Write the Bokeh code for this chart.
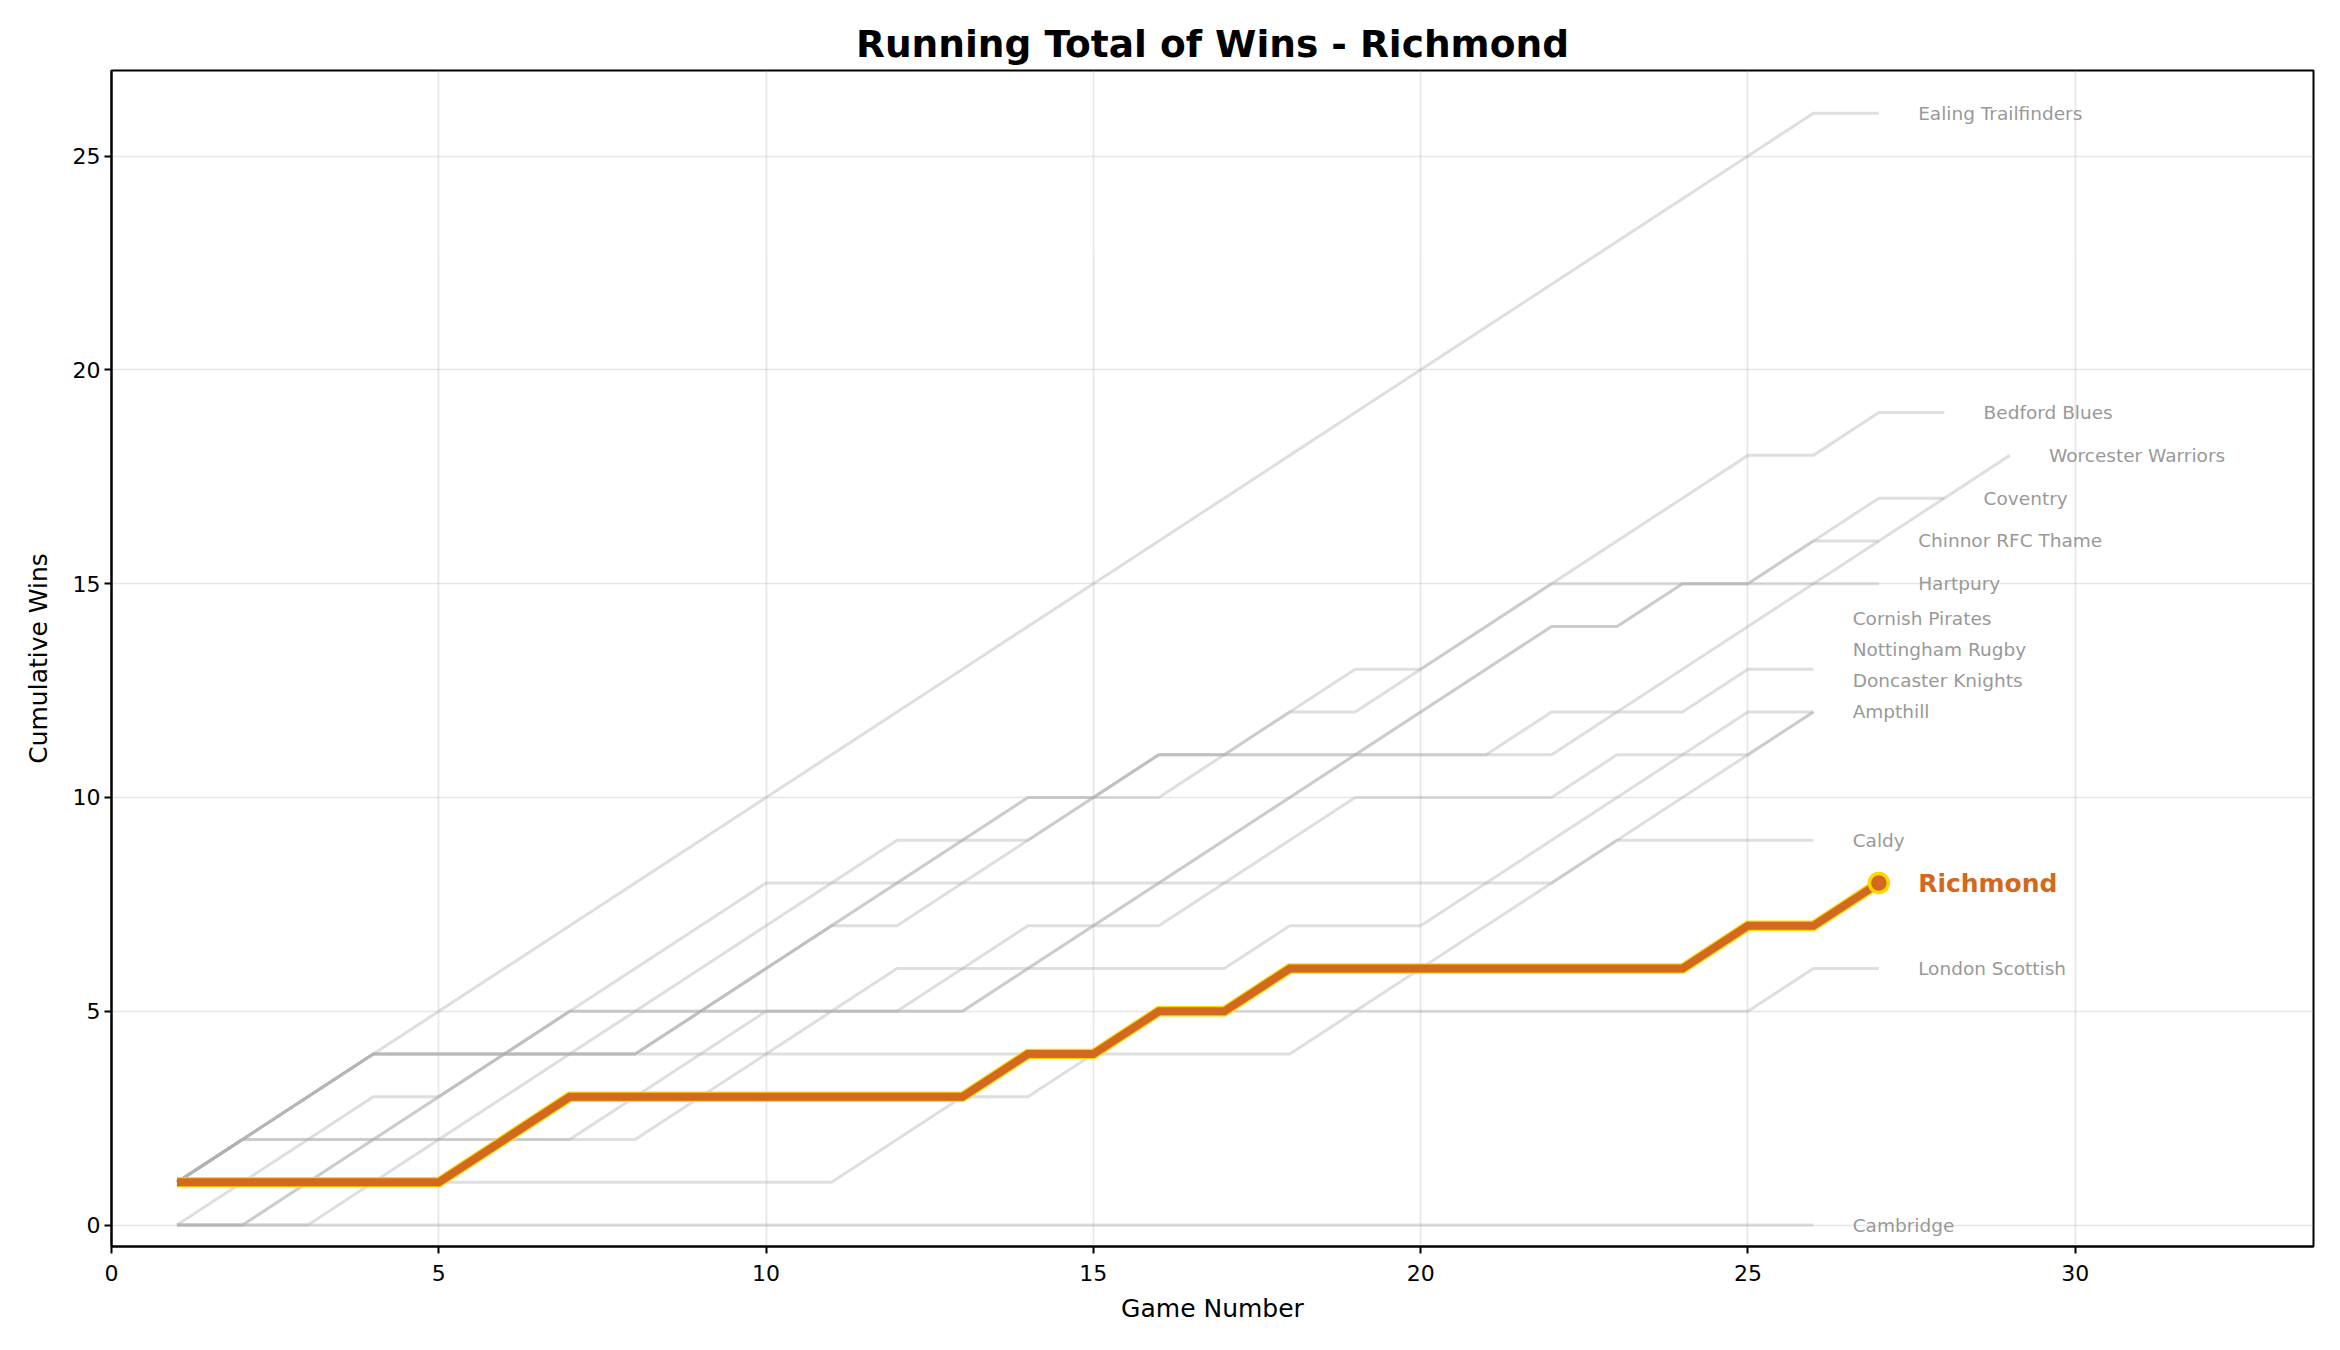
from bokeh.plotting import figure
from bokeh.models import Range1d, ColumnDataSource, FixedTicker
from bokeh.core.properties import value
from bokeh.embed import file_html
from bokeh.resources import INLINE

# cumulative wins after each game (game 1 .. N)
ealing = [1, 2, 3, 4, 5, 6, 7, 8, 9, 10, 11, 12, 13, 14, 15, 16, 17, 18, 19, 20, 21, 22, 23, 24, 25, 26, 26]
bedford = [1, 2, 3, 4, 4, 4, 4, 4, 5, 6, 7, 8, 9, 10, 10, 10, 11, 12, 12, 13, 14, 15, 16, 17, 18, 18, 19, 19]
worcester = [1, 2, 3, 4, 4, 4, 4, 4, 5, 6, 7, 7, 8, 9, 10, 11, 11, 11, 11, 11, 11, 11, 12, 13, 14, 15, 16, 17, 18]
coventry = [1, 2, 3, 4, 4, 4, 4, 4, 5, 6, 7, 8, 9, 10, 10, 11, 11, 12, 13, 13, 14, 15, 15, 15, 15, 16, 17, 17]
chinnor = [0, 1, 2, 3, 3, 4, 5, 5, 5, 5, 5, 5, 5, 6, 7, 8, 9, 10, 11, 12, 13, 14, 14, 15, 15, 16, 16]
hartpury = [0, 0, 1, 2, 3, 4, 5, 5, 5, 5, 5, 5, 5, 6, 7, 8, 9, 10, 11, 12, 13, 14, 14, 15, 15, 15, 15]
cornish = [0, 0, 0, 1, 2, 3, 4, 5, 6, 7, 8, 9, 9, 9, 10, 11, 11, 11, 11, 11, 11, 12, 12, 12, 13, 13]
nottingham = [1, 2, 2, 2, 2, 2, 2, 2, 3, 4, 5, 6, 6, 6, 6, 6, 6, 7, 7, 7, 8, 9, 10, 11, 12, 12]
doncaster = [1, 2, 2, 2, 2, 2, 2, 3, 4, 5, 5, 5, 6, 7, 7, 7, 8, 9, 10, 10, 10, 10, 11, 11, 11, 12]
ampthill = [1, 1, 1, 1, 1, 1, 1, 1, 1, 1, 1, 2, 3, 3, 4, 5, 5, 5, 5, 6, 7, 8, 9, 10, 11, 12]
caldy = [0, 0, 1, 2, 3, 4, 5, 6, 7, 8, 8, 8, 8, 8, 8, 8, 8, 8, 8, 8, 8, 8, 9, 9, 9, 9]
london_scottish = [1, 2, 3, 4, 4, 4, 4, 4, 4, 4, 4, 4, 4, 4, 4, 4, 4, 4, 5, 5, 5, 5, 5, 5, 5, 6, 6]
cambridge = [0, 0, 0, 0, 0, 0, 0, 0, 0, 0, 0, 0, 0, 0, 0, 0, 0, 0, 0, 0, 0, 0, 0, 0, 0, 0]
richmond = [1, 1, 1, 1, 1, 2, 3, 3, 3, 3, 3, 3, 3, 4, 4, 5, 5, 6, 6, 6, 6, 6, 6, 6, 7, 7, 8]

team_names = ["Ealing Trailfinders", "Bedford Blues", "Worcester Warriors", "Coventry",
              "Chinnor RFC Thame", "Hartpury", "Cornish Pirates", "Nottingham Rugby",
              "Doncaster Knights", "Ampthill", "Caldy", "London Scottish", "Cambridge"]
team_wins = [ealing, bedford, worcester, coventry, chinnor, hartpury, cornish, nottingham,
             doncaster, ampthill, caldy, london_scottish, cambridge]
focus_name = "Richmond"

x_ticks = [0, 5, 10, 15, 20, 25, 30]
y_ticks = [0, 5, 10, 15, 20, 25]

FONT = "DejaVu Sans"

p = figure(width=2324, height=1334,
           x_range=Range1d(0, 33.64), y_range=Range1d(-0.5, 27),
           output_backend="svg", toolbar_location=None,
           min_border_left=111, min_border_right=11,
           min_border_top=70, min_border_bottom=88,
           background_fill_color="white", border_fill_color="white")

p.title.text = "Running Total of Wins - Richmond"
p.title.text_font = FONT
p.title.text_font_size = "37.5px"
p.title.text_font_style = "bold"
p.title.align = "center"
p.title.text_color = "black"
p.title.standoff = 10

p.outline_line_color = "black"
p.outline_line_width = 2
p.outline_line_alpha = 1

for ax in (p.xaxis[0], p.yaxis[0]):
    ax.axis_line_color = "black"
    ax.axis_line_width = 2
    ax.major_tick_line_color = "black"
    ax.major_tick_line_width = 2
    ax.major_tick_in = 0
    ax.major_tick_out = 7
    ax.minor_tick_line_color = None
    ax.major_label_text_font = FONT
    ax.major_label_text_font_size = "22px"
    ax.major_label_text_color = "black"
    ax.axis_label_text_font = FONT
    ax.axis_label_text_font_size = "25px"
    ax.axis_label_text_font_style = "normal"
    ax.axis_label_text_color = "black"

p.xaxis.major_label_standoff = 11
p.xaxis.axis_label_standoff = 10
p.yaxis.major_label_standoff = 4
p.yaxis.axis_label_standoff = 17

p.xaxis.axis_label = "Game Number"
p.yaxis.axis_label = "Cumulative Wins"
p.xaxis.ticker = FixedTicker(ticks=x_ticks)
p.yaxis.ticker = FixedTicker(ticks=y_ticks)
p.xgrid.ticker = FixedTicker(ticks=x_ticks)
p.ygrid.ticker = FixedTicker(ticks=y_ticks)
for g in (p.xgrid[0], p.ygrid[0]):
    g.grid_line_color = "#b0b0b0"
    g.grid_line_alpha = 0.3
    g.grid_line_width = 1.7

# other teams in light grey
xs = [list(range(1, len(w) + 1)) for w in team_wins]
ys = [list(w) for w in team_wins]
p.multi_line(xs=xs, ys=ys, line_color="#b0b0b0", line_alpha=0.4, line_width=3)

# focus team
rx = list(range(1, len(richmond) + 1))
p.line(rx, richmond, line_color="#FFD700", line_width=10.5, line_join="miter")
p.line(rx, richmond, line_color="#D2691E", line_width=8, line_join="miter")
p.scatter([rx[-1]], [richmond[-1]], size=19, fill_color="#D2691E",
          line_color="#FFD700", line_width=3.5)

# end labels, nudged apart so they do not overlap
entries = [(n, len(w), w[-1]) for n, w in zip(team_names, team_wins)]
entries.append((focus_name, len(richmond), richmond[-1]))
entries = sorted(reversed(entries), key=lambda e: e[2])
min_gap = 0.73
label_dx = 0.6
placed = []
last = None
for name, n_games, final in entries:
    ly = final if last is None else max(final, last + min_gap)
    last = ly
    placed.append((name, n_games + label_dx, ly))

grey = [e for e in placed if e[0] != focus_name]
foc = [e for e in placed if e[0] == focus_name]

src = ColumnDataSource(dict(x=[e[1] for e in grey], y=[e[2] for e in grey], t=[e[0] for e in grey]))
p.text(x="x", y="y", text="t", source=src, text_font=value(FONT),
       text_font_size=value("18.5px"), text_color="#999999",
       text_baseline="middle", text_align="left")

src2 = ColumnDataSource(dict(x=[e[1] for e in foc], y=[e[2] for e in foc], t=[e[0] for e in foc]))
p.text(x="x", y="y", text="t", source=src2, text_font=value(FONT),
       text_font_size=value("25px"), text_font_style="bold", text_color="#D2691E",
       text_baseline="middle", text_align="left")

open("out.html", "w").write(file_html(p, INLINE))
